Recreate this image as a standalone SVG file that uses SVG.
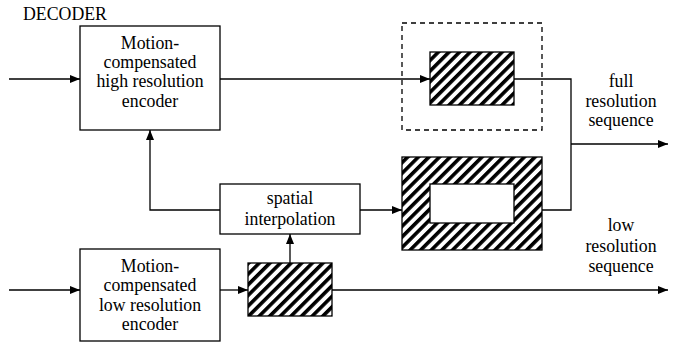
<svg xmlns="http://www.w3.org/2000/svg" width="674" height="343" viewBox="0 0 674 343">
<defs>
<pattern id="hatch" patternUnits="userSpaceOnUse" width="7.5" height="7.5" patternTransform="rotate(45)">
<rect x="0" y="0" width="7.5" height="7.5" fill="#fff"/>
<rect x="0" y="0" width="3.6" height="7.5" fill="#000"/>
</pattern>
<marker id="arr" viewBox="0 0 10 8" refX="10" refY="4" markerWidth="10" markerHeight="8" markerUnits="userSpaceOnUse" orient="auto">
<path d="M0,0 L10,4 L0,8 Z" fill="#000"/>
</marker>
</defs>
<style>
.box{fill:#fff;stroke:#000;stroke-width:1.3}
.hb{fill:url(#hatch);stroke:#000;stroke-width:1.3}
.t{font-family:"Liberation Serif","Times New Roman",serif;font-size:17.8px;fill:#000;text-anchor:middle}
.c{fill:none;stroke:#000;stroke-width:1.3}
.ca{fill:none;stroke:#000;stroke-width:1.3;marker-end:url(#arr)}
</style>
<rect width="674" height="343" fill="#fff"/>
<text class="t" x="23" y="20" style="text-anchor:start">DECODER</text>
<g id="hi-enc">
<rect class="box" x="80" y="26" width="140" height="104"/>
<text class="t" x="150" y="49">Motion-</text>
<text class="t" x="150" y="68">compensated</text>
<text class="t" x="150" y="87">high resolution</text>
<text class="t" x="150" y="107">encoder</text>
</g>
<g id="lo-enc">
<rect class="box" x="80" y="249" width="140" height="92"/>
<text class="t" x="150" y="272">Motion-</text>
<text class="t" x="150" y="291">compensated</text>
<text class="t" x="150" y="311">low resolution</text>
<text class="t" x="150" y="330">encoder</text>
</g>
<g id="spatial">
<rect class="box" x="220" y="184" width="140" height="50"/>
<text class="t" x="290" y="204">spatial</text>
<text class="t" x="290" y="225">interpolation</text>
</g>
<g id="hi-frame">
<rect x="402" y="23" width="140" height="107" fill="none" stroke="#000" stroke-width="1.3" stroke-dasharray="5,4"/>
<rect class="hb" x="430" y="52" width="84" height="53"/>
</g>
<g id="ring-frame">
<rect class="hb" x="402" y="157" width="140" height="93"/>
<rect class="box" x="430" y="184" width="84" height="39"/>
</g>
<g id="lo-frame">
<rect class="hb" x="248" y="263" width="84" height="53"/>
</g>
<g id="labels">
<text class="t" x="621" y="87">full</text>
<text class="t" x="621" y="107">resolution</text>
<text class="t" x="621" y="126">sequence</text>
<text class="t" x="621" y="231">low</text>
<text class="t" x="621" y="252">resolution</text>
<text class="t" x="621" y="272">sequence</text>
</g>
<g id="connectors">
<path class="ca" d="M9,79 H80"/>
<path class="ca" d="M220,79 H430"/>
<path class="c" d="M514,79 H571 V210 H542"/>
<path class="ca" d="M571,144 H668"/>
<path class="ca" d="M220,210 H150 V130"/>
<path class="ca" d="M360,210 H402"/>
<path class="ca" d="M9,290 H80"/>
<path class="ca" d="M220,290 H248"/>
<path class="ca" d="M290,263 V234"/>
<path class="ca" d="M332,290 H668"/>
</g>
</svg>
